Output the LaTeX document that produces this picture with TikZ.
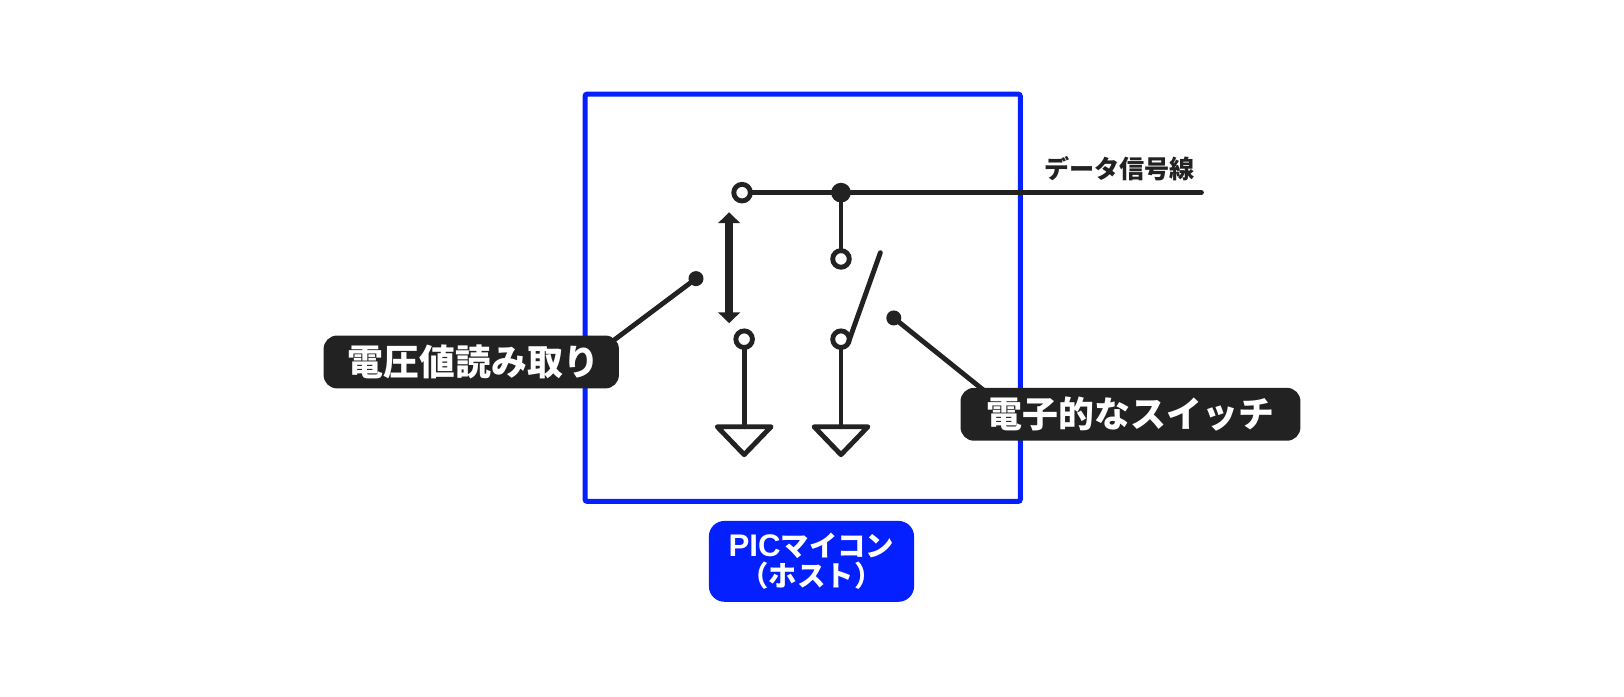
\documentclass[tikz,border=0pt]{standalone}
\usepackage{fontspec}
\setmainfont{Noto Sans CJK JP}[BoldFont=* Black]
\newfontfamily\latinbold{Liberation Sans}[Scale=1.1]
\usetikzlibrary{arrows.meta}
\definecolor{inkdark}{HTML}{222222}
\definecolor{picblue}{HTML}{0520FF}
\tikzset{
    wire/.style = {draw=inkdark, line width=0.047cm, line cap=round, line join=round},
    opendot/.style = {circle, draw=inkdark, fill=white, line width=0.047cm,
        minimum size=0.16cm, inner sep=0pt, outer sep=0pt},
    soliddot/.style = {circle, fill=inkdark, inner sep=0pt, outer sep=0pt},
    tag/.style = {rounded corners=0.13cm, fill=inkdark, text=white,
        font=\fontsize{9.85pt}{11pt}\selectfont\bfseries,
        inner sep=0pt, outer sep=0pt},
}
\begin{document}
\begin{tikzpicture}[x=0.01cm, y=-0.01cm]
    \useasboundingbox (0,0) rectangle (1568,672);
    % host box
    \node [draw=picblue, line width=0.048cm, rounded corners=0.02cm, inner sep=0pt,
            minimum width=4.20cm, minimum height=3.93cm]
        at (775,287.5) (host) {};
    % terminals
    \node [opendot] at (716.5,186) (topA) {};
    \node [soliddot, minimum size=0.19cm] at (812,186) (junction) {};
    \node [opendot] at (812,250) (topB) {};
    \node [opendot] at (718.5,327.5) (lowA) {};
    \node [opendot] at (812,327.5) (lowB) {};
    \node [soliddot, minimum size=0.145cm] at (672,269) (ctrlA) {};
    \node [soliddot, minimum size=0.145cm] at (863,307) (ctrlB) {};
    \coordinate (lineEnd) at (1160,186);
    \coordinate (gndA) at (718.5,412);
    \coordinate (gndB) at (812,412);
    \coordinate (bladeStart) at (819,331);
    \coordinate (bladeEnd) at (850,244);
    \coordinate (arrowTop) at (704,205);
    \coordinate (arrowBot) at (704,312);
    \coordinate (readTip) at (588,332);
    \coordinate (switchTip) at (955,381);
    % data line
    \draw [wire] (topA) -- (junction) -- (lineEnd);
    \draw [wire] (junction) -- (topB);
    \node at (1081,163) (dataLabel)
        {\fontsize{6.9pt}{8pt}\selectfont\bfseries\textcolor{inkdark}{データ信号線}};
    % switches
    \draw [wire] (lowA) -- (gndA);
    \draw [wire] (lowB) -- (gndB);
    \draw [wire] (bladeStart) -- (bladeEnd);
    \draw [line width=0.08cm, draw=inkdark, {Triangle[width=0.21cm,length=0.105cm]}-{Triangle[width=0.21cm,length=0.105cm]}]
        (arrowTop) -- (arrowBot);
    % grounds
    \foreach \g in {gndA, gndB} {
        \draw [wire] (\g) -- ++(-26,0) -- ++(26,27) -- ++(26,-27) -- cycle;
    }
    % labels
    \draw [wire] (ctrlA) -- (readTip);
    \draw [wire] (ctrlB) -- (switchTip);
    \node [tag, minimum width=2.85cm, minimum height=0.51cm]
        at (455,349.5) (readLabel) {\hspace*{0.04cm}電圧値読み取り};
    \node [tag, minimum width=3.28cm, minimum height=0.51cm]
        at (1091.5,400) (switchLabel) {電子的なスイッチ};
    \node [tag, fill=picblue, align=center, minimum width=1.98cm, minimum height=0.78cm,
            rounded corners=0.15cm, font=\fontsize{7.8pt}{8.2pt}\selectfont\bfseries]
        at (783.5,542) (hostLabel) {{\latinbold\bfseries PIC}マイコン\\（ホスト）};
\end{tikzpicture}
\end{document}
